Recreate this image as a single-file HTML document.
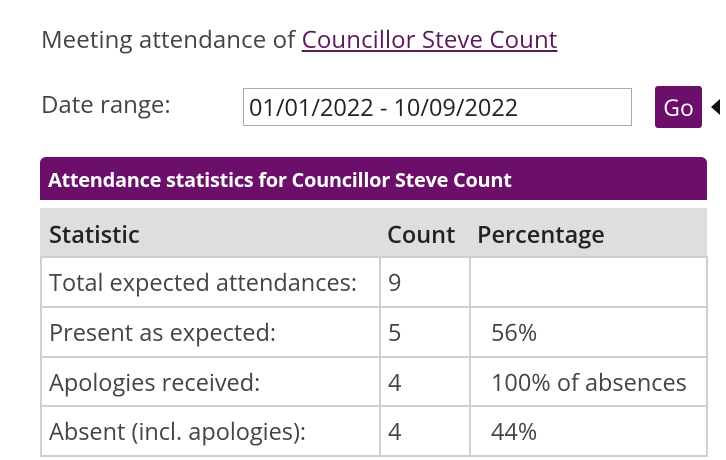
<!DOCTYPE html>
<html><head><meta charset="utf-8"><style>
body{margin:0;width:726px;height:460px;background:#fff;position:relative;overflow:hidden;font-family:"Open Sans","Liberation Sans",sans-serif;color:#444}
.a{position:absolute;white-space:nowrap}
.cell{position:absolute;box-sizing:border-box;font-size:23.5px;line-height:48px;padding-left:9px;color:#444}
.hl{position:absolute;background:#cfcfcf}
</style></head><body>
<div class="a" style="left:41px;top:23px;font-size:24px;color:#444;letter-spacing:0.1px">Meeting attendance of <a style="color:#5c1a5c;text-decoration:underline">Councillor Steve Count</a></div>
<div class="a" style="left:41px;top:88px;font-size:24px">Date range:</div>
<div class="a" style="left:243px;top:88px;width:389px;height:38px;box-sizing:border-box;border:1px solid #aaa;font-size:23.5px;line-height:36px;padding-left:5px;color:#222">01/01/2022 - 10/09/2022</div>
<div class="a" style="left:655px;top:86px;width:47px;height:42px;background:#6b0f6b;border-radius:3px;color:#fff;font-size:23px;line-height:42px;text-align:center">Go</div>
<div class="a" style="left:711px;top:99px;width:0;height:0;border-top:8px solid transparent;border-bottom:8px solid transparent;border-right:9px solid #111"></div>
<div class="a" style="left:40px;top:157px;width:667px;height:43px;background:#6b0f6b;border-radius:6px 6px 0 0;color:#fff;font-weight:bold;font-size:20px;line-height:46px;padding-left:8px;box-sizing:border-box;letter-spacing:-0.3px">Attendance statistics for Councillor Steve Count</div>
<div class="a" style="left:40px;top:208px;width:667px;height:49px;background:#dedede"></div>
<div class="cell" style="left:40px;top:210px;color:#222;font-weight:600">Statistic</div>
<div class="cell" style="left:378px;top:210px;color:#222;font-weight:600">Count</div>
<div class="cell" style="left:468px;top:210px;color:#222;font-weight:600">Percentage</div>
<div class="hl" style="left:40px;top:256px;width:668px;height:2px"></div>
<div class="hl" style="left:40px;top:306px;width:668px;height:2px"></div>
<div class="hl" style="left:40px;top:356px;width:668px;height:2px"></div>
<div class="hl" style="left:40px;top:405px;width:668px;height:2px"></div>
<div class="hl" style="left:40px;top:455px;width:668px;height:2px"></div>
<div class="hl" style="left:40px;top:256px;width:2px;height:201px"></div>
<div class="hl" style="left:379px;top:256px;width:2px;height:201px"></div>
<div class="hl" style="left:469px;top:256px;width:2px;height:201px"></div>
<div class="hl" style="left:706px;top:256px;width:2px;height:201px"></div>
<div class="cell" style="left:40px;top:258px">Total expected attendances:</div>
<div class="cell" style="left:379px;top:258px">9</div>
<div class="cell" style="left:40px;top:308px">Present as expected:</div>
<div class="cell" style="left:379px;top:308px">5</div>
<div class="cell" style="left:482px;top:308px">56%</div>
<div class="cell" style="left:40px;top:358px">Apologies received:</div>
<div class="cell" style="left:379px;top:358px">4</div>
<div class="cell" style="left:482px;top:358px">100% of absences</div>
<div class="cell" style="left:40px;top:407px">Absent (incl. apologies):</div>
<div class="cell" style="left:379px;top:407px">4</div>
<div class="cell" style="left:482px;top:407px">44%</div>
</body></html>
